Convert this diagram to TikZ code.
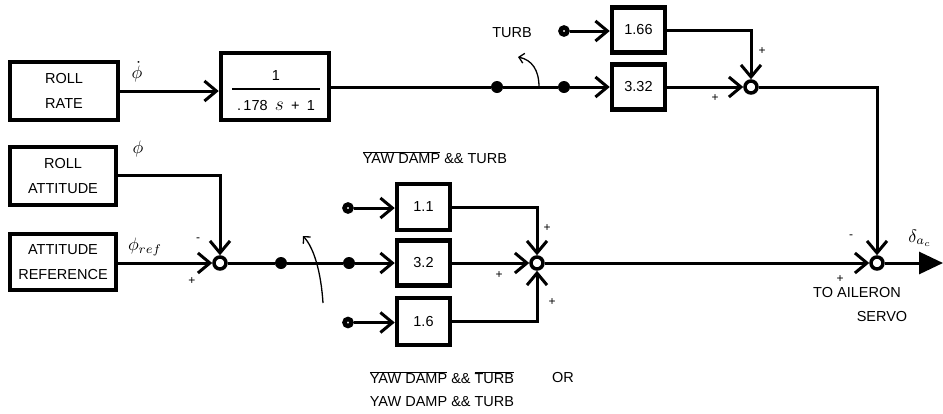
\documentclass[tikz,border=0pt]{standalone}
\usepackage{graphicx}
\usepackage{fontspec}
\setmainfont{Liberation Sans}
\usetikzlibrary{arrows.meta}
\newcommand{\bigsym}[1]{\scalebox{1.8}{$#1$}}
\begin{document}
\begin{tikzpicture}[x=1pt,y=-1pt,
  font=\fontsize{14.5}{25}\selectfont,
  blk/.style={draw, line width=4.5pt, inner sep=0pt, align=center},
  wire/.style={line width=3pt},
  arr/.style={wire, -{Straight Barb[length=12pt,width=20pt]}},
  outarr/.style={wire, -{Triangle[length=24pt,width=22pt]}},
  sum/.style={circle, draw, fill=white, line width=3.5pt, minimum size=12pt, inner sep=0pt},
  jdot/.style={circle, fill, minimum size=12pt, inner sep=0pt},
  ring/.style={circle, draw, fill=white, line width=4.5pt, minimum size=7pt, inner sep=0pt},
  sgn/.style={font=\fontsize{12}{14}\selectfont, inner sep=0pt},
  sym/.style={font=\fontsize{10}{12}\selectfont, inner sep=0pt},
  lbl/.style={inner sep=0pt},
  switch/.style={line width=1.3pt, -{Straight Barb[length=5pt,width=10pt]}}]
\useasboundingbox (0,0) rectangle (943,413);

% ---------- top branch ----------
\node[blk, minimum width=108pt, minimum height=58pt] (rr) at (64,91) {ROLL\\RATE};
\node[blk, minimum width=108pt, minimum height=67pt] (tf) at (275,86.5) {};
\node[lbl] (num) at (276,76) {1};
\draw[line width=1.8pt] (232,89) coordinate (fl) -- (320,89) coordinate (fr);
\node[lbl] (den) at (276,106) {.\,178\enspace\scalebox{1.35}{$s$}\enspace+\enspace1};
\node[sym] (phidot) at (137,72) {\bigsym{\dot{\phi}}};

\node[jdot] (d1) at (497,87) {};
\node[jdot] (d2) at (564,87) {};
\node[blk, minimum width=53pt, minimum height=45pt] (b332) at (638.5,87) {3.32};
\node[blk, minimum width=53pt, minimum height=45pt] (b166) at (638.5,30) {1.66};
\node[ring] (r0) at (564,31) {};
\node[lbl] (turb) at (512,33) {TURB};
\node[sum] (s1) at (751,87) {};
\node[sgn] (s1p1) at (762,51) {+};
\node[sgn] (s1p2) at (715,98) {+};

\draw[arr] (rr.east) -- (tf.west |- rr.east);
\draw[wire] (tf.east |- d1) -- (d1);
\draw[wire] (d1) -- (d2);
\draw[arr] (d2) -- (b332);
\draw[arr] (r0) -- (b166.west |- r0);
\draw[arr] (b166.east) -| (s1);
\draw[arr] (b332.east) -- (s1);

\coordinate (sw1a) at (539,87);
\coordinate (sw1b) at (518,57);
\draw[switch] (sw1a) .. controls (539,70) and (532,60) .. (sw1b);

% ---------- lower branch ----------
\node[blk, minimum width=106pt, minimum height=58pt] (ra) at (63,176) {ROLL\\ATTITUDE};
\node[blk, minimum width=106pt, minimum height=56pt] (ar) at (63,262) {ATTITUDE\\REFERENCE};
\node[sym] (phi) at (138,149) {\bigsym{\phi}};
\node[sym] (phiref) at (145,247) {\bigsym{\phi_{ref}}};
\node[sum] (s0) at (220,263) {};
\node[sgn] (s0m) at (198,240) {-};
\node[sgn] (s0p) at (192,281) {+};

\node[jdot] (d3) at (281,263) {};
\node[jdot] (d4) at (349,263) {};
\node[blk, minimum width=53pt, minimum height=46pt] (b11) at (423.5,207) {1.1};
\node[blk, minimum width=53pt, minimum height=45pt] (b32) at (423.5,263) {3.2};
\node[blk, minimum width=53pt, minimum height=47pt] (b16) at (423.5,321.5) {1.6};
\node[ring] (r1) at (348,208) {};
\node[ring] (r3) at (348,322.5) {};
\node[sum] (s2) at (537,263) {};
\node[sgn] (s2p1) at (547,228) {+};
\node[sgn] (s2p2) at (499,275) {+};
\node[sgn] (s2p3) at (552,302) {+};

\node[sum] (s3) at (877,263) {};
\node[sgn] (s3m) at (851,237) {-};
\node[sgn] (s3p) at (840,279) {+};
\coordinate (out) at (943,263);
\node[sym] (delta) at (920,238) {\bigsym{\delta_{a_c}}};
\node[lbl] (toail) at (857,293) {TO AILERON};
\node[lbl] (servo) at (882,317) {SERVO};

\draw[arr] (ra.east |- 0,175) -| (s0);
\draw[arr] (ar.east |- s0) -- (s0);
\draw[wire] (s0) -- (d3);
\draw[wire] (d3) -- (d4);
\draw[arr] (d4) -- (b32);
\draw[arr] (r1) -- (b11.west |- r1);
\draw[arr] (r3) -- (b16.west |- r3);
\draw[arr] (b11.east) -| (s2);
\draw[arr] (b32.east) -- (s2);
\draw[arr] (b16.east) -| (s2);
\draw[arr] (s2) -- (s3);
\draw[arr] (s1) -| (s3);
\draw[outarr] (s3) -- (out);

\coordinate (sw2a) at (323,303);
\coordinate (sw2b) at (303,236);
\draw[switch] (sw2a) .. controls (321,272) and (314,248) .. (sw2b);

% ---------- condition labels ----------
\node[lbl] (c1) at (435,158) {$\overline{\mbox{YAW DAMP}}$ \&\& TURB};
\node[lbl] (c2) at (442,378) {$\overline{\mbox{YAW DAMP}}$ \&\& $\overline{\mbox{TURB}}$};
\node[lbl] (cor) at (563,378) {OR};
\node[lbl] (c3) at (442,402) {YAW DAMP \&\& TURB};
\end{tikzpicture}
\end{document}
